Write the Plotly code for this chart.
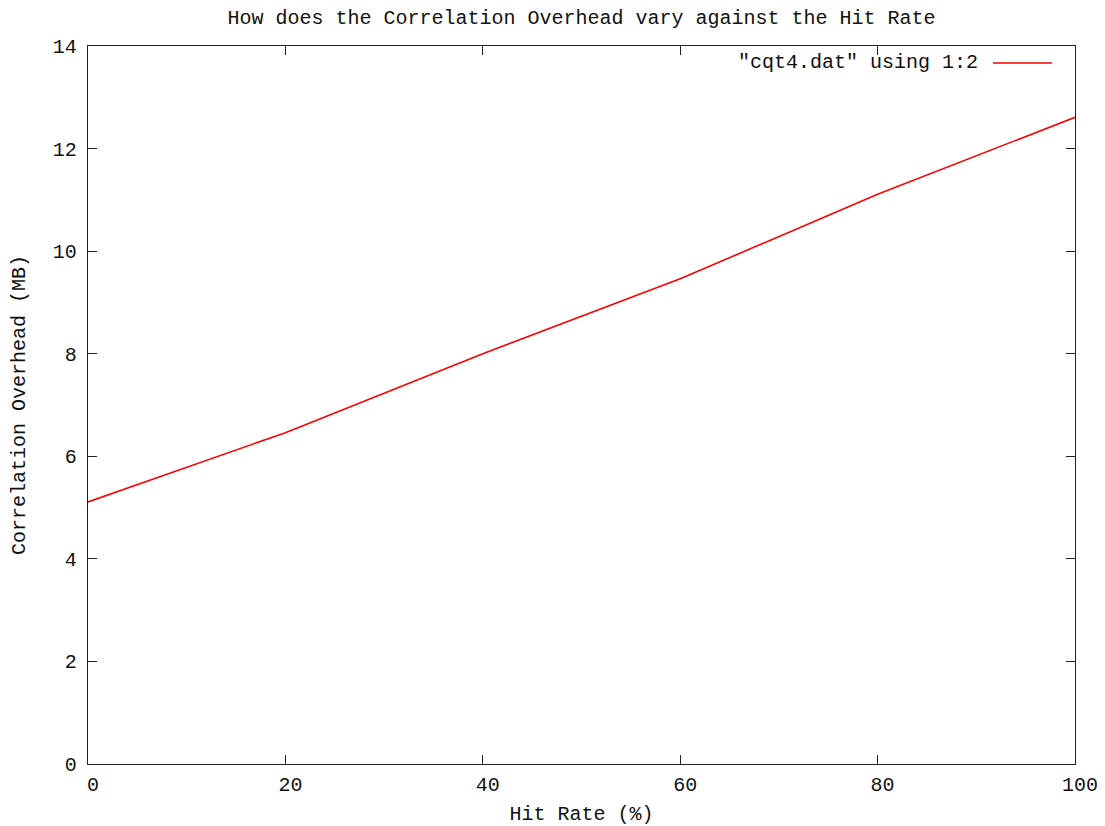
import plotly.graph_objects as go

hit_rate = [0, 20, 40, 60, 80, 100]
overhead = [5.11, 6.46, 8.00, 9.46, 11.11, 12.61]
x_ticks = [0, 20, 40, 60, 80, 100]
y_ticks = [0, 2, 4, 6, 8, 10, 12, 14]
legend_label = '"cqt4.dat" using 1:2'

FONT = "Liberation Mono"
FS = 20
# page body has an 8px default margin, so the figure is drawn 8px in from the window corner
OFF = 8
W, H = 1105 - OFF, 826 - OFF
L, R, T, B = 88 - OFF, 30, 46 - OFF, 62
PW, PH = W - L - R, H - T - B

fig = go.Figure()
fig.add_trace(go.Scatter(
    x=hit_rate, y=overhead, mode="lines",
    line=dict(color="#ff0000", width=1.6),
    name=legend_label, showlegend=False,
))

axis_common = dict(
    showgrid=False, zeroline=False, showline=True, linecolor="#222222", linewidth=1.3,
    mirror="ticks", ticks="inside", ticklen=9, tickcolor="#222222", tickwidth=1.3,
    tickfont=dict(family=FONT, size=FS, color="#111111"),
)

fig.update_xaxes(range=[0, 100], tickvals=x_ticks, ticktext=[str(v) for v in x_ticks],
                 title=dict(text="Hit Rate (%)", font=dict(family=FONT, size=FS, color="#111111"), standoff=12),
                 ticklabelstandoff=2, ticklabelshift=5, **axis_common)
fig.update_yaxes(range=[0, 14], tickvals=y_ticks, ticktext=[str(v) for v in y_ticks],
                 title=dict(text="Correlation Overhead (MB)", font=dict(family=FONT, size=FS, color="#111111"), standoff=24),
                 ticklabelstandoff=6, **axis_common)

# gnuplot-style key: text followed by line sample (top right, inside plot)
key_y = 1 - (63 - OFF - T) / PH
fig.add_annotation(xref="paper", yref="paper", x=(980 - OFF - L) / PW, y=key_y,
                   xanchor="right", yanchor="middle", showarrow=False, text=legend_label,
                   font=dict(family=FONT, size=FS, color="#111111"))
fig.add_shape(type="line", xref="paper", yref="paper",
              x0=(993 - OFF - L) / PW, x1=(1052 - OFF - L) / PW,
              y0=key_y, y1=key_y,
              line=dict(color="#ff0000", width=1.6))

fig.update_layout(
    width=W, height=H,
    margin=dict(l=L, r=R, t=T, b=B, autoexpand=False),
    paper_bgcolor="white", plot_bgcolor="white",
    title=dict(text="How does the Correlation Overhead vary against the Hit Rate",
               x=(L + PW / 2) / W, xanchor="center",
               y=1 - (17 - OFF) / H, yanchor="middle", yref="container",
               font=dict(family=FONT, size=FS, color="#111111")),
)

fig.write_html("out.html")
